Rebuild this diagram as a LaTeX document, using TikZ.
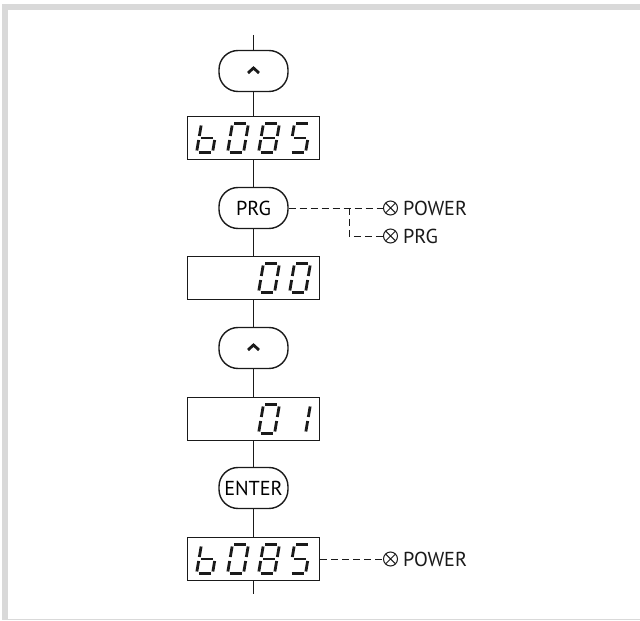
\documentclass[tikz,border=0pt]{standalone}
\usepackage{fontspec}
\setmainfont{PT Sans}
\usetikzlibrary{positioning,calc}
\definecolor{frame}{HTML}{D9D9D9}
\definecolor{ink}{HTML}{1A1A1A}
\tikzset{
  key/.style   = {draw=ink, fill=white, line width=0.8pt, rounded corners=0.38cm,
                  minimum width=1.38cm, minimum height=0.82cm, inner sep=0pt},
  lcd/.style   = {draw=ink, fill=white, line width=0.8pt,
                  minimum width=2.64cm, minimum height=0.86cm, inner sep=0pt},
  wire/.style  = {draw=ink, line width=0.8pt},
  tap/.style   = {draw=ink, line width=0.5pt, dash pattern=on 0.14cm off 0.08cm},
  lamp/.style  = {draw=ink, circle, line width=0.6pt, minimum size=0.28cm, inner sep=0pt,
                  path picture={\draw[ink,line width=0.6pt]
                    (path picture bounding box.north west) -- (path picture bounding box.south east)
                    (path picture bounding box.south west) -- (path picture bounding box.north east);}},
  lbl/.style   = {text=ink, inner sep=1pt},
  caret/.style = {draw=ink, line width=1.6pt},
  seg/.style   = {draw=ink, line width=1.6pt},
  sega/.pic = {\draw[seg] (-6,-14.5) -- (6,-14.5);},
  segb/.pic = {\draw[seg] (8,-12.5) -- (8,-2);},
  segc/.pic = {\draw[seg] (8,2) -- (8,12.5);},
  segd/.pic = {\draw[seg] (-6,14.5) -- (6,14.5);},
  sege/.pic = {\draw[seg] (-8,2) -- (-8,12.5);},
  segf/.pic = {\draw[seg] (-8,-12.5) -- (-8,-2);},
  segg/.pic = {\draw[seg] (-6,0) -- (6,0);},
}
% one slanted seven-segment digit: display node, offset, segments
\newcommand{\lcddigit}[3]{%
  \begin{scope}[shift={(#1)},shift={(#2,0)},xslant=0.17]
    \foreach \s in {#3}{\pic[transform shape] {seg\s};}
  \end{scope}}

\begin{document}
\begin{tikzpicture}[x=0.02cm,y=-0.02cm,font=\fontsize{11.5}{13}\selectfont]
  \useasboundingbox (0,0) rectangle (640,621);
  % page frame
  \fill[frame] (2,4) rectangle (640,10);
  \fill[frame] (2,4) rectangle (8,620.5);
  \fill[frame] (8,619.3) rectangle (640,620.5);

  \coordinate (top) at (253.5,35);
  \node[key] (up1)   at (253.5,71)  {};
  \node[lcd] (disp1) at (253.5,138) {};
  \node[key] (prg)   at (253.5,208) {PRG};
  \node[lcd] (disp2) at (253.5,278) {};
  \node[key] (up2)   at (253.5,348) {};
  \node[lcd] (disp3) at (253.5,419) {};
  \node[key] (enter) at (253.5,488) {ENTER};
  \node[lcd] (disp4) at (253.5,559) {};
  \coordinate (bot) at (253.5,594);

  \foreach \a/\b in {top/up1,up1/disp1,disp1/prg,prg/disp2,disp2/up2,
                     up2/disp3,disp3/enter,enter/disp4,disp4/bot}
    \draw[wire] (\a) -- (\b);

  % arrow keys
  \foreach \k in {up1,up2}
    \draw[caret] ($(\k.center)+(-5.5,2)$) -- ++(5.5,-5) -- ++(5.5,5);

  % display contents
  \lcddigit{disp1}{-46.5}{c,d,e,f,g}
  \lcddigit{disp1}{-15.5}{a,b,c,d,e,f}
  \lcddigit{disp1}{15.5}{a,b,c,d,e,f,g}
  \lcddigit{disp1}{46.5}{a,f,g,c,d}
  \lcddigit{disp2}{15.5}{a,b,c,d,e,f}
  \lcddigit{disp2}{46.5}{a,b,c,d,e,f}
  \lcddigit{disp3}{15.5}{a,b,c,d,e,f}
  \lcddigit{disp3}{46.5}{b,c}
  \lcddigit{disp4}{-46.5}{c,d,e,f,g}
  \lcddigit{disp4}{-15.5}{a,b,c,d,e,f}
  \lcddigit{disp4}{15.5}{a,b,c,d,e,f,g}
  \lcddigit{disp4}{46.5}{a,f,g,c,d}

  % indicator lamps
  \node[lamp] (pwr1) at (390.5,208) {};
  \node[lbl,right=0.06cm of pwr1] (pwr1txt) {POWER};
  \node[lamp] (prgl) at (390.5,236) {};
  \node[lbl,right=0.06cm of prgl] (prgltxt) {PRG};
  \node[lamp] (pwr2) at (390.5,559) {};
  \node[lbl,right=0.06cm of pwr2] (pwr2txt) {POWER};
  \coordinate (fork) at (349,208);
  \draw[tap] (prg) -- (pwr1);
  \draw[tap] (fork) |- (prgl);
  \draw[tap] (disp4) -- (pwr2);
\end{tikzpicture}
\end{document}
